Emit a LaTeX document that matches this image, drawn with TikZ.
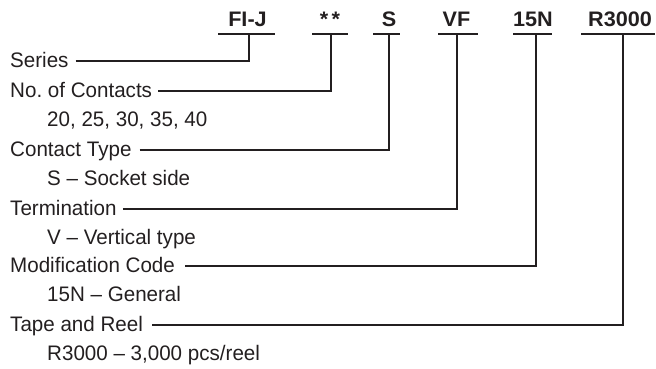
\documentclass[tikz,border=0pt]{standalone}
\usepackage{fontspec}
\setmainfont{Liberation Sans}[FakeStretch=0.98]
\newfontfamily\hdrfont{Liberation Sans}[FakeStretch=1.03]
\definecolor{ink}{HTML}{231F20}
\begin{document}
\begin{tikzpicture}[x=1pt,y=-1pt,
  lbl/.style={anchor=base west, inner sep=0pt, text height=12pt, text depth=0pt,
              font=\fontsize{21}{21}\selectfont, text=ink},
  hdr/.style={anchor=base, inner sep=0pt, font=\hdrfont\bfseries\fontsize{21}{21}\selectfont, text=ink},
  uline/.style={draw=ink, line width=2pt},
  conn/.style={draw=ink, line width=1.2pt}]
\useasboundingbox (0,0) rectangle (656,369);

% header codes
\node[hdr] (h1) at (247.5,27) {FI-J};
\node[hdr] (h2) at (330,27) {*\,*};
\node[hdr] (h3) at (389,27) {S};
\node[hdr] (h4) at (456.5,27) {VF};
\node[hdr] (h5) at (533,27) {15N};
\node[hdr] (h6) at (620,27) {R3000};

% underlines
\coordinate (a1) at (218,34); \coordinate (b1) at (275,34);
\coordinate (a2) at (312,34); \coordinate (b2) at (348,34);
\coordinate (a3) at (373,34); \coordinate (b3) at (400,34);
\coordinate (a4) at (438,34); \coordinate (b4) at (478,34);
\coordinate (a5) at (513,34); \coordinate (b5) at (552,34);
\coordinate (a6) at (581,34); \coordinate (b6) at (655,34);
\foreach \i in {1,...,6} {\draw[uline] (a\i) -- (b\i);}

% connector tops
\coordinate (c1) at (249,34);
\coordinate (c2) at (331,34);
\coordinate (c3) at (389,34);
\coordinate (c4) at (457,34);
\coordinate (c5) at (536,34);
\coordinate (c6) at (623,34);

% labels
\node[lbl] (s1) at (10,67) {Series};
\node[lbl] (s2) at (10,97) {No.\ of Contacts};
\node[lbl] (d2) at (47,126.5) {20, 25, 30, 35, 40};
\node[lbl] (s3) at (10,156) {Contact Type};
\node[lbl] (d3) at (47,185.5) {S – Socket side};
\node[lbl] (s4) at (10,215) {Termination};
\node[lbl] (d4) at (47,244) {V – Vertical type};
\node[lbl] (s5) at (10,272) {Modification Code};
\node[lbl] (d5) at (47,301.5) {15N – General};
\node[lbl] (s6) at (10,331) {Tape and Reel};
\node[lbl] (d6) at (47,360.5) {R3000 – 3,000 pcs/reel};

% connectors
\foreach \i/\g in {1/7,2/6,3/8,4/6,5/10,6/9} {
  \draw[conn] ([xshift=\g pt]s\i.east) -| (c\i);
}
\end{tikzpicture}
\end{document}
